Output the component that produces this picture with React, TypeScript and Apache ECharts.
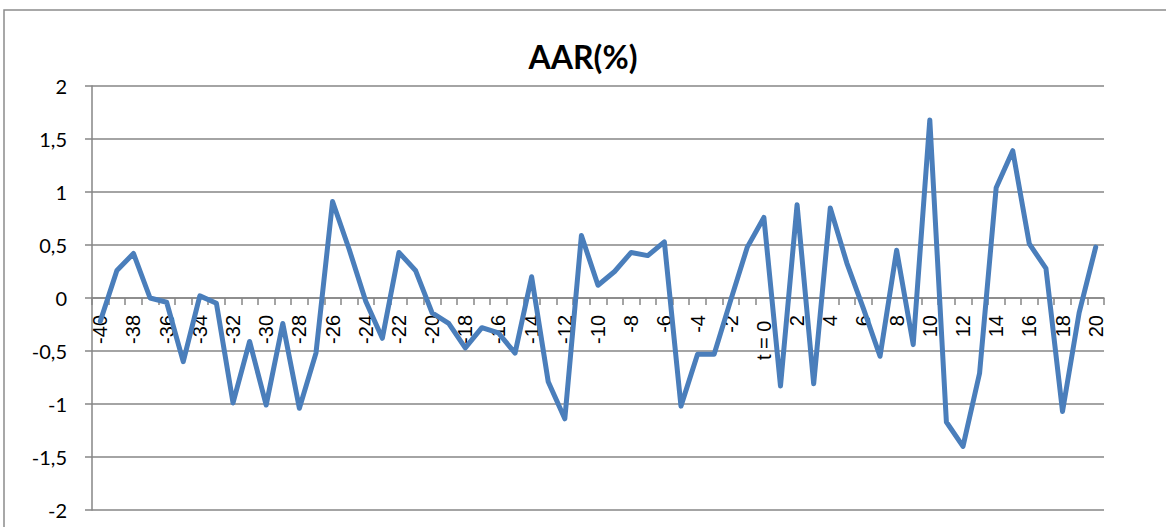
import React, { useEffect, useRef } from "react";
import * as echarts from "echarts";

// Event-window days, t = -40 … 20
const days: string[] = [
  "-40", "-39", "-38", "-37", "-36", "-35", "-34", "-33", "-32", "-31",
  "-30", "-29", "-28", "-27", "-26", "-25", "-24", "-23", "-22", "-21",
  "-20", "-19", "-18", "-17", "-16", "-15", "-14", "-13", "-12", "-11",
  "-10", "-9", "-8", "-7", "-6", "-5", "-4", "-3", "-2", "-1",
  "0", "1", "2", "3", "4", "5", "6", "7", "8", "9",
  "10", "11", "12", "13", "14", "15", "16", "17", "18", "19", "20",
];

// Average abnormal return (%) per day
const aar: number[] = [
  -0.22, 0.26, 0.42, 0.0, -0.04, -0.6, 0.02, -0.05, -0.99, -0.41,
  -1.01, -0.24, -1.04, -0.52, 0.91, 0.46, -0.03, -0.38, 0.43, 0.26,
  -0.14, -0.24, -0.47, -0.28, -0.33, -0.52, 0.2, -0.79, -1.14, 0.59,
  0.12, 0.25, 0.43, 0.4, 0.53, -1.02, -0.53, -0.53, -0.02, 0.48,
  0.76, -0.83, 0.88, -0.81, 0.85, 0.33, -0.1, -0.55, 0.45, -0.44,
  1.68, -1.17, -1.4, -0.71, 1.04, 1.39, 0.51, 0.28, -1.07, -0.14, 0.48,
];

const yTicks = { min: -2, max: 2, step: 0.5 };

const GRID_GREY = "#868686";
const PLOT_TOP = 86;
const PLOT_BOTTOM = 17;
const CHART_H = 527;

export default function App() {
  const ref = useRef<HTMLDivElement>(null);

  useEffect(() => {
    if (!ref.current) return;
    const chart = echarts.init(ref.current, undefined, { renderer: "svg" });
    // lift the category axis from the plot's bottom edge to the zero line
    const plotH = CHART_H - PLOT_TOP - PLOT_BOTTOM;
    const zeroLift = (plotH * (0 - yTicks.min)) / (yTicks.max - yTicks.min);
    chart.setOption({
      animation: false,
      backgroundColor: "#ffffff",
      title: {
        text: "AAR(%)",
        left: "center",
        top: 35,
        textStyle: {
          fontFamily: "Lato",
          fontWeight: "bold",
          fontSize: 32,
          color: "#000",
        },
      },
      graphic: [
        {
          type: "rect",
          shape: { x: 4, y: 10, width: 1180, height: 540 },
          style: { fill: "none", stroke: "#8c8c8c", lineWidth: 1.5 },
          silent: true,
        },
      ],
      grid: {
        left: 92,
        right: 62,
        top: PLOT_TOP,
        bottom: PLOT_BOTTOM,
        containLabel: false,
        outerBoundsMode: "none",
      },
      xAxis: {
        type: "category",
        data: days,
        boundaryGap: true,
        offset: -zeroLift,
        axisLine: { onZero: false, lineStyle: { color: GRID_GREY, width: 1.5 } },
        axisTick: {
          show: true,
          interval: 0,
          length: 7,
          lineStyle: { color: GRID_GREY, width: 1.5 },
        },
        axisLabel: {
          interval: 1,
          rotate: 90,
          margin: 17,
          fontSize: 20,
          fontFamily: "Liberation Sans",
          color: "#000",
          formatter: (v: string) => (v === "0" ? "t = 0\u00a0" : v),
        },
        splitLine: { show: false },
      },
      yAxis: {
        type: "value",
        min: yTicks.min,
        max: yTicks.max,
        interval: yTicks.step,
        axisLine: { show: true, lineStyle: { color: GRID_GREY, width: 1.5 } },
        axisTick: {
          show: true,
          length: 7,
          lineStyle: { color: GRID_GREY, width: 1.5 },
        },
        axisLabel: {
          margin: 25,
          fontSize: 20,
          fontFamily: "Lato",
          color: "#000",
          formatter: (v: number) => String(v).replace(".", ","),
        },
        splitLine: { show: true, lineStyle: { color: GRID_GREY, width: 1.5 } },
      },
      series: [
        {
          type: "line",
          data: aar,
          symbol: "none",
          lineStyle: { color: "#4a7ebb", width: 5, join: "round", cap: "round" },
        },
      ],
    });
    return () => chart.dispose();
  }, []);

  return (
    <div
      ref={ref}
      style={{ position: "fixed", left: 0, top: 0, width: 1166, height: CHART_H }}
    />
  );
}
